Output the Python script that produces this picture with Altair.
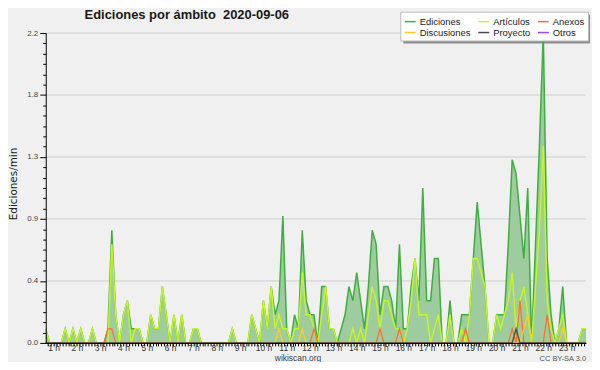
import altair as alt
import pandas as pd

# ---- data: edits per minute, one value per 10-minute slot, from 00:40 to 23:50 ----
FIRST_SLOT = 4  # slot index of the first value (slot = 10 minutes)

ediciones = [
    0.1, 0, 0, 0, 0, 0.1, 0, 0.1, 0, 0.1,
    0, 0, 0.1, 0, 0, 0, 0.1, 0.8, 0.2, 0,
    0.2, 0.3, 0.1, 0.1, 0.1, 0, 0, 0.2, 0.1, 0.1,
    0.4, 0.2, 0, 0.2, 0, 0.2, 0, 0, 0.1, 0.1,
    0, 0, 0, 0, 0, 0, 0, 0, 0.1, 0,
    0, 0, 0, 0.2, 0.1, 0, 0.3, 0.1, 0.4, 0.2,
    0.3, 0.9, 0.1, 0, 0.2, 0.1, 0.8, 0.3, 0.2, 0.2,
    0, 0.4, 0.4, 0.1, 0.1, 0, 0.1, 0.2, 0.4, 0.3,
    0.5, 0.3, 0.1, 0.4, 0.8, 0.7, 0.2, 0.4, 0.4, 0.3,
    0.1, 0.7, 0.1, 0.1, 0.4, 0.6, 0.3, 1.1, 0.3, 0.3,
    0.6, 0.6, 0, 0, 0.3, 0, 0, 0.2, 0.2, 0.2,
    0.6, 1.0, 0.7, 0.4, 0, 0, 0.2, 0.2, 0.2, 0.7,
    1.3, 1.2, 0.9, 0.6, 1.1, 0, 0.7, 1.4, 2.2, 0.6,
    0.2, 0, 0.1, 0.4, 0, 0, 0, 0, 0.1, 0.1,
]
articulos = [
    0.1, 0, 0, 0, 0, 0.1, 0, 0.1, 0, 0.1,
    0, 0, 0.1, 0, 0, 0, 0, 0.7, 0.2, 0,
    0.2, 0.3, 0, 0.1, 0.1, 0, 0, 0.2, 0.1, 0.1,
    0.4, 0.2, 0, 0.2, 0, 0.2, 0, 0, 0.1, 0.1,
    0, 0, 0, 0, 0, 0, 0, 0, 0.1, 0,
    0, 0, 0, 0.2, 0.1, 0, 0.3, 0.1, 0.4, 0.1,
    0.2, 0.1, 0.1, 0, 0.1, 0.1, 0.5, 0.2, 0.2, 0.1,
    0, 0.2, 0.4, 0.1, 0.1, 0, 0, 0, 0, 0.1,
    0, 0.1, 0, 0.2, 0.4, 0.3, 0.1, 0.3, 0.3, 0.2,
    0.1, 0.1, 0, 0.1, 0.3, 0.6, 0.2, 0.2, 0.2, 0,
    0.1, 0.2, 0, 0, 0.2, 0, 0, 0.1, 0, 0.2,
    0.6, 0.6, 0.5, 0.4, 0, 0, 0.2, 0.1, 0.2, 0.3,
    0.5, 0.1, 0.3, 0.4, 0.2, 0, 0.4, 0.8, 1.4, 0.3,
    0.1, 0, 0.1, 0.2, 0, 0, 0, 0, 0.1, 0.1,
]
anexos = [
    0, 0, 0, 0, 0, 0, 0, 0, 0, 0,
    0, 0, 0, 0, 0, 0, 0.1, 0.1, 0, 0,
    0, 0, 0, 0, 0, 0, 0, 0, 0, 0,
    0, 0, 0, 0, 0, 0, 0, 0, 0, 0,
    0, 0, 0, 0, 0, 0, 0, 0, 0, 0,
    0, 0, 0, 0, 0, 0, 0, 0, 0, 0,
    0, 0, 0, 0, 0, 0, 0, 0, 0, 0.1,
    0, 0, 0, 0, 0, 0, 0, 0, 0, 0,
    0, 0, 0, 0, 0, 0, 0.1, 0, 0, 0,
    0, 0.1, 0, 0, 0, 0, 0, 0, 0, 0,
    0, 0, 0, 0, 0, 0, 0, 0, 0.1, 0,
    0, 0, 0, 0, 0, 0, 0, 0, 0, 0,
    0.1, 0, 0.3, 0, 0, 0, 0, 0, 0, 0.2,
    0, 0, 0, 0, 0, 0, 0, 0, 0, 0,
]
discusiones = [
    0, 0, 0, 0, 0, 0, 0, 0, 0, 0,
    0, 0, 0, 0, 0, 0, 0, 0, 0, 0,
    0, 0, 0, 0, 0, 0, 0, 0, 0, 0,
    0, 0, 0, 0, 0, 0, 0, 0, 0, 0,
    0, 0, 0, 0, 0, 0, 0, 0, 0, 0,
    0, 0, 0, 0, 0, 0, 0, 0, 0, 0,
    0.1, 0, 0, 0, 0, 0, 0.1, 0, 0, 0,
    0, 0, 0, 0, 0, 0, 0, 0, 0, 0,
    0, 0, 0, 0, 0, 0, 0, 0, 0, 0,
    0, 0, 0, 0, 0, 0, 0, 0, 0, 0,
    0, 0, 0, 0, 0, 0, 0, 0, 0, 0,
    0, 0, 0, 0, 0, 0, 0, 0, 0, 0,
    0, 0, 0, 0.1, 0.2, 0, 0, 0, 0, 0,
    0, 0, 0, 0.1, 0, 0, 0, 0, 0, 0,
]
proyecto = [
    0, 0, 0, 0, 0, 0, 0, 0, 0, 0,
    0, 0, 0, 0, 0, 0, 0, 0, 0, 0,
    0, 0, 0, 0, 0, 0, 0, 0, 0, 0,
    0, 0, 0, 0, 0, 0, 0, 0, 0, 0,
    0, 0, 0, 0, 0, 0, 0, 0, 0, 0,
    0, 0, 0, 0, 0, 0, 0, 0, 0, 0,
    0, 0, 0, 0, 0, 0, 0, 0, 0, 0,
    0, 0, 0, 0, 0, 0, 0, 0, 0, 0,
    0, 0, 0, 0, 0, 0, 0, 0, 0, 0,
    0, 0, 0, 0, 0, 0, 0, 0, 0, 0,
    0, 0, 0, 0, 0, 0, 0, 0, 0, 0,
    0, 0, 0, 0, 0, 0, 0, 0, 0, 0,
    0, 0.1, 0, 0, 0, 0, 0, 0, 0, 0,
    0, 0, 0, 0, 0, 0, 0, 0, 0, 0,
]
otros = [
    0, 0, 0, 0, 0, 0, 0, 0, 0, 0,
    0, 0, 0, 0, 0, 0, 0, 0, 0, 0,
    0, 0, 0, 0, 0, 0, 0, 0, 0, 0,
    0, 0, 0, 0, 0, 0, 0, 0, 0, 0,
    0, 0, 0, 0, 0, 0, 0, 0, 0, 0,
    0, 0, 0, 0, 0, 0, 0, 0, 0, 0,
    0, 0, 0, 0, 0, 0, 0, 0, 0, 0,
    0, 0, 0, 0, 0, 0, 0, 0, 0, 0,
    0, 0, 0, 0, 0, 0, 0, 0, 0, 0,
    0, 0, 0, 0, 0, 0, 0, 0, 0, 0,
    0, 0, 0, 0, 0, 0, 0, 0, 0, 0,
    0, 0, 0, 0, 0, 0, 0, 0, 0, 0,
    0, 0, 0, 0, 0, 0, 0, 0, 0, 0,
    0, 0, 0, 0, 0, 0, 0, 0, 0, 0,
]

series_names = ["Ediciones", "Artículos", "Anexos", "Discusiones", "Proyecto", "Otros"]
series_colors = ["#3fae3f", "#c4f524", "#ff6e30", "#ffcc22", "#4a4a4a", "#9b45ff"]
y_major = [0.0, 0.44, 0.88, 1.32, 1.76, 2.2]
title_text = "Ediciones por ámbito\u00a0 2020-09-06"
y_title = "Ediciones/min"
footer_site = "wikiscan.org"
footer_license = "CC BY-SA 3.0"

# ---- table ----
slots = [(FIRST_SLOT + k) / 6 for k in range(len(ediciones))]
all_series = [ediciones, articulos, anexos, discusiones, proyecto, otros]
records = [
    {"t": t, "v": v, "serie": name}
    for name, vals in zip(series_names, all_series)
    for t, v in zip(slots, vals)
]
df = pd.DataFrame(records)

x_ticks = [k / 8 for k in range(6, 191)]
y_ticks = [round(k * 0.44 / 6, 5) for k in range(31)]
major_test = "abs(datum.value/0.44 - round(datum.value/0.44)) < 0.01"

xscale = alt.Scale(domain=[slots[0], slots[-1]], nice=False, zero=False)
yscale = alt.Scale(domain=[0, 2.2], nice=False, zero=True)

xaxis = alt.Axis(
    values=x_ticks,
    labelExpr="abs(datum.value - round(datum.value)) < 0.001 ? round(datum.value) + ' h' : ''",
    title=None, grid=False, domainColor="#000", tickColor="#000", tickSize=3,
    labelFont="Liberation Sans", labelFontSize=8.5, labelColor="#333",
    labelBaseline="alphabetic", labelPadding=5, labelOverlap=False, labelFlush=False,
    zindex=1,
)
yaxis = alt.Axis(
    values=y_ticks,
    labelExpr=major_test + " ? format(datum.value, '.1f') : ''",
    title=y_title, titleX=-32, titleY=151.5, titleAngle=270, titleAlign="center",
    titleBaseline="middle", titleFont="DejaVu Sans", titleFontSize=10.5,
    titleFontWeight="normal", titleColor="#222",
    grid=False, domainColor="#000", tickColor="#000",
    tickSize={"condition": {"test": major_test, "value": 6}, "value": 3},
    labelFont="Liberation Sans", labelFontSize=8, labelColor="#444", labelPadding=2,
    labelOverlap=False, labelFlush=False, zindex=1,
)

X = alt.X("t:Q", scale=xscale, axis=xaxis)
Y = alt.Y("v:Q", scale=yscale, axis=yaxis)
C = alt.Color(
    "serie:N",
    scale=alt.Scale(domain=series_names, range=series_colors),
    legend=alt.Legend(
        title=None, orient="none", legendX=357, legendY=-21.5, columns=3,
        direction="horizontal", gridAlign="each",
        symbolType="stroke", symbolSize=121, symbolStrokeWidth=1.5,
        labelFont="Liberation Sans", labelFontSize=9.5, labelColor="#222",
        labelOffset=3, fillColor="#ffffff", strokeColor="#bbbbbb",
        padding=3.5, rowPadding=0, columnPadding=4,
    ),
)

grid = alt.Chart(pd.DataFrame({"v": y_major[1:]})).mark_rule(
    color="#cfcfcf", strokeWidth=1
).encode(y=Y)

shadow = alt.Chart(pd.DataFrame({"k": [0]})).mark_rect(color="#8c8c8c").encode(
    x=alt.value(360), x2=alt.value(548), y=alt.value(-18.5), y2=alt.value(10.5)
)

area = alt.Chart(df).transform_filter(alt.datum.serie == "Ediciones").mark_area(
    color="#9ecc9e", opacity=1
).encode(x=X, y=Y)

draw_order = [("Otros", 1.2), ("Ediciones", 1.5), ("Artículos", 1.5),
              ("Anexos", 1.3), ("Discusiones", 1.3), ("Proyecto", 1.3)]
lines = [
    alt.Chart(df).transform_filter(alt.datum.serie == name).mark_line(
        strokeWidth=w
    ).encode(x=X, y=Y, color=C)
    for name, w in draw_order
]

title = alt.Chart(pd.DataFrame({"txt": [title_text]})).mark_text(
    font="Liberation Sans", fontSize=13, fontWeight="bold", color="#1a1a1a",
    align="center", baseline="alphabetic",
).encode(text="txt:N", x=alt.value(142), y=alt.value(-14.3))

site = alt.Chart(pd.DataFrame({"txt": [footer_site]})).mark_text(
    font="Liberation Sans", fontSize=8.5, color="#444", align="center", baseline="alphabetic",
).encode(text="txt:N", x=alt.value(254), y=alt.value(330))

lic = alt.Chart(pd.DataFrame({"txt": [footer_license]})).mark_text(
    font="Liberation Sans", fontSize=7.5, color="#555", align="right", baseline="alphabetic",
).encode(text="txt:N", x=alt.value(544), y=alt.value(330))

chart = alt.layer(grid, shadow, area, *lines, title, site, lic).properties(
    width=544, height=312,
    autosize=alt.AutoSizeParams(type="none"),
    padding={"left": 38, "top": 24, "right": 6, "bottom": 18},
    background="#f0f0f0",
).configure_view(stroke=None)

chart.save("out.html", embed_options={"renderer": "svg", "actions": False})
